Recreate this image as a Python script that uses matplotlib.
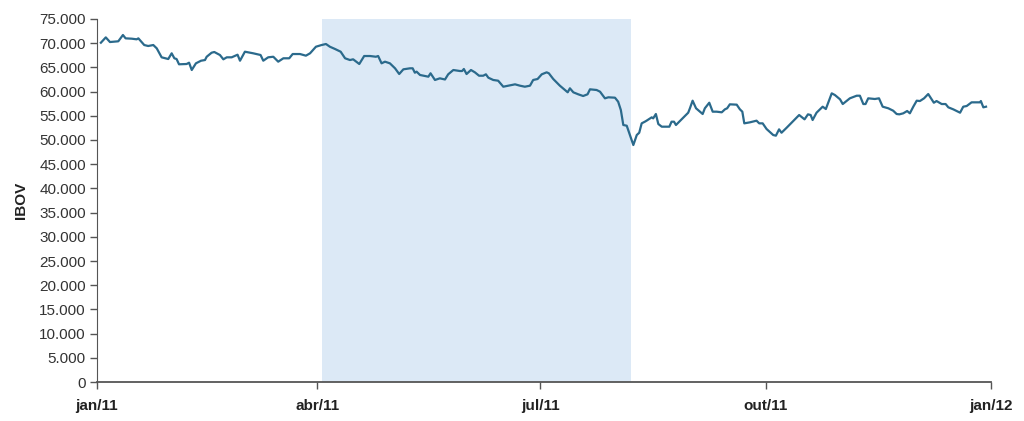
import numpy as np
import matplotlib
matplotlib.use("Agg")
import matplotlib.pyplot as plt
import matplotlib.dates as mdates
from matplotlib.ticker import FuncFormatter

# IBOV 2011: days after 2011-01-01 and index level
days = [1.6, 3.6, 5.3, 8.7, 10.6, 11.7, 14.2, 16.2, 16.9, 19.3, 20.9, 23.0, 24.4, 26.4,
        29.1, 30.5, 31.6, 32.5, 33.5, 36.6, 37.6, 38.7, 40.4, 42.5, 44.1, 44.8, 46.8, 47.9,
        50.2, 51.6, 53.0, 55.0, 57.4, 58.4, 60.4, 63.8, 66.8, 67.9, 69.9, 72.0,
        74.0, 76.1, 78.5, 79.9, 81.5, 82.9, 85.3, 87.0, 89.4, 91.7, 93.5, 95.1, 97.2, 99.5,
        101.3, 103.3, 104.6, 107.1, 109.1, 111.5, 113.9, 114.8, 116.2, 117.6, 119.6, 121.7,
        123.4, 125.1, 127.8, 128.9, 129.8, 130.5, 131.9, 133.9, 135.3, 136.2, 138.0, 140.0, 142.1,
        143.4, 145.5, 148.2, 149.1, 149.8, 150.9, 152.7, 154.3, 156.0, 157.7, 158.8, 159.8,
        161.8, 163.8, 165.9, 167.9, 170.7, 172.7, 174.7, 176.8, 178.1, 179.9, 181.6, 183.6,
        184.5, 186.3, 189.0, 192.2, 193.1, 194.5, 196.5, 198.5, 200.3, 201.3, 204.0, 205.4,
        207.4, 208.8, 211.5, 212.8, 213.9, 214.9, 216.3, 219.0, 220.4, 221.4, 222.4, 223.7,
        224.4, 226.5, 227.1, 228.2, 229.2, 230.6, 233.7, 234.6, 235.6, 236.4, 238.7, 241.4,
        242.1, 243.2, 244.6, 247.3, 248.2, 250.0, 251.4, 253.0, 255.1, 256.4, 257.3, 258.4,
        261.2, 262.5, 263.5, 264.3, 266.6, 269.3, 270.4, 271.8, 273.4, 276.1, 277.2, 278.5,
        279.5, 281.6, 283.6, 286.7,
        288.9, 290.3, 291.4, 292.2, 293.8, 296.3, 297.6, 300.0, 301.3, 303.4, 304.5, 307.4,
        310.2, 311.5, 312.9, 313.8, 314.9, 317.6, 319.3, 320.8, 323.1, 325.1, 326.5, 327.6,
        329.2, 330.8, 331.9, 333.3, 334.7, 336.0, 337.7, 339.4, 340.8, 341.7, 342.8, 344.9,
        346.5, 347.6, 349.6, 352.4, 353.7, 355.1, 357.1, 360.5, 360.9, 361.9, 363.0]
ibov = [70100, 71200, 70240, 70390, 71690, 71000, 70930, 70800, 71000, 69620, 69420, 69620, 68940, 67080,
        66730, 67910, 66880, 66730, 65640, 65700, 65970, 64460, 65840, 66380, 66520, 67200, 68030, 68180,
        67560, 66670, 67080, 67080, 67620, 66380, 68240, 67910, 67560, 66380, 67080, 67200,
        66180, 66880, 66880, 67760, 67760, 67760, 67420, 67910, 69270, 69620, 69830, 69270, 68800, 68240,
        66880, 66520, 66670, 65700, 67350, 67350, 67200, 67350, 65840, 66180, 65840, 64810,
        63630, 64600, 64810, 64810, 63900, 64120, 63430, 63220, 63080, 63780, 62400, 62740, 62500,
        63570, 64460, 64250, 64250, 64670, 63630, 64460, 63980, 63280, 63280, 63570, 62870,
        62400, 62250, 61010, 61220, 61500, 61220, 61010, 61220, 62400, 62600, 63570, 63980,
        63780, 62600, 61220, 59850, 60680, 59850, 59440, 59090, 59440, 60470, 60330, 59980,
        58610, 58820, 58740, 57910, 56190, 53100, 52950, 48960, 51030, 51500, 53440, 53780,
        53990, 54680, 54470, 55370, 53300, 52750, 52750, 53780, 53780, 53100, 54270, 55640,
        56550, 58120, 56550, 55370, 56550, 57700, 55850, 55850, 55720, 56340, 56550, 57370,
        57300, 56340, 55850, 53440, 53650, 53990, 53440, 53440, 52270, 51030, 50890, 52200,
        51500, 52540, 53570, 55160,
        54270, 55300, 55160, 54130, 55640, 56880, 56400, 59640, 59290, 58400, 57430, 58610,
        59150, 59150, 57430, 57430, 58610, 58470, 58610, 56880, 56550, 56050, 55370, 55300,
        55510, 55990, 55510, 56880, 58120, 58050, 58610, 59500, 58400, 57700, 58050, 57430,
        57430, 56750, 56340, 55640, 56880, 57020, 57780, 57780, 58050, 56750, 56880]

shade_start = "2011-04-03"
shade_end = "2011-08-07"
tick_dates = ["2011-01-01", "2011-04-01", "2011-07-01", "2011-10-01", "2012-01-01"]
tick_labels = ["jan/11", "abr/11", "jul/11", "out/11", "jan/12"]

dates = np.datetime64("2011-01-01T00:00") + (np.array(days) * 24 * 60).astype("timedelta64[m]")

fig = plt.figure(figsize=(10.24, 4.21), dpi=100)
ax = fig.add_axes([0.0947, 0.0926, 0.873, 0.8623])

ax.axvspan(np.datetime64(shade_start), np.datetime64(shade_end), ymin=0, ymax=1,
           color="#dce9f6", lw=0, zorder=0)
ax.plot(dates, ibov, color="#2b6a8c", lw=1.6, zorder=3)

ax.set_xlim(np.datetime64(tick_dates[0]), np.datetime64(tick_dates[-1]))
ax.set_ylim(0, 75000)
ax.set_yticks(np.arange(0, 75001, 5000))
ax.yaxis.set_major_formatter(FuncFormatter(lambda v, p: f"{int(v):,}".replace(",", ".")))
ax.set_xticks([mdates.date2num(np.datetime64(d)) for d in tick_dates])
ax.set_xticklabels(tick_labels)

for s in ["top", "right"]:
    ax.spines[s].set_visible(False)
ax.spines["left"].set_color("#555555")
ax.spines["bottom"].set_color("#555555")
ax.spines["bottom"].set_linewidth(1.3)
ax.tick_params(axis="both", colors="#555555", length=5, width=1)
ax.tick_params(axis="y", labelcolor="#333333", labelsize=11, pad=3)
ax.tick_params(axis="x", labelcolor="#222222", pad=7)
for lab in ax.get_yticklabels():
    lab.set_family(["Liberation Sans", "DejaVu Sans"])
for lab in ax.get_xticklabels():
    lab.set_family(["Liberation Sans Narrow", "Liberation Sans", "DejaVu Sans"])
    lab.set_fontweight("bold")
    lab.set_fontsize(11)

ax.set_ylabel("IBOV", fontsize=11, fontweight="bold", color="#222222",
              family=["Liberation Sans", "DejaVu Sans"], labelpad=8)

fig.savefig("out.png", dpi=100)
